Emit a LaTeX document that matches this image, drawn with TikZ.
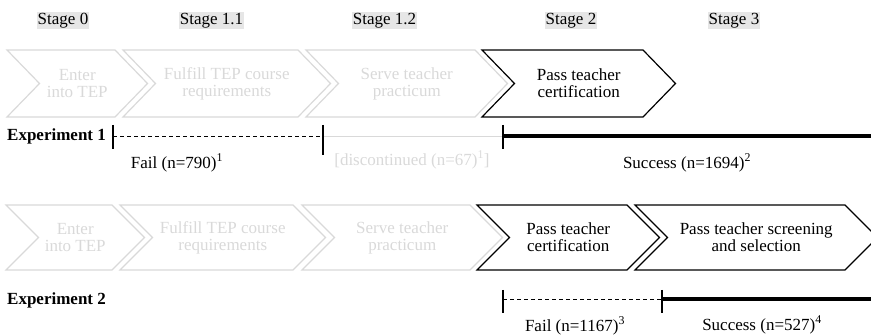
\documentclass[tikz,border=0pt]{standalone}
\usepackage{fontspec}
\setmainfont{Liberation Serif}
\definecolor{faded}{HTML}{D9D9D9}
\definecolor{stagebg}{HTML}{E6E6E6}
\newcommand\mychev[5]{%
  \draw[#5] (#1,#3) -- (#2,#3) -- ({#2+32.5},{(#3+#4)/2}) -- (#2,#4) -- (#1,#4) -- ({#1+32.5},{(#3+#4)/2}) -- cycle;}
\tikzset{
  every node/.style={font=\fontsize{17}{17}\selectfont},
  stagelbl/.style={fill=stagebg, inner xsep=1pt, inner ysep=1.5pt},
  chevfaded/.style={draw=faded, line width=1.2pt, line join=miter},
  chevdark/.style={draw=black, line width=1.2pt, line join=miter},
  chtextfaded/.style={align=center, text=faded},
  chtextdark/.style={align=center, text=black},
  explbl/.style={font=\fontsize{17}{17}\selectfont\bfseries, anchor=base west, inner sep=0pt},
  tickline/.style={line width=1.3pt},
  failline/.style={line width=0.9pt, dash pattern=on 4pt off 3pt},
  discline/.style={line width=1pt, draw=faded},
  succline/.style={line width=4pt},
  outcome/.style={inner sep=0pt},
}
\begin{document}
\begin{tikzpicture}[x=1pt,y=-1pt]
\useasboundingbox (0,0) rectangle (871,336);

% stage labels
\node[stagelbl] (s0) at (63,20.5) {Stage 0};
\node[stagelbl] (s11) at (211.5,20.5) {Stage 1.1};
\node[stagelbl] (s12) at (384.5,20.5) {Stage 1.2};
\node[stagelbl] (s2) at (571,20.5) {Stage 2};
\node[stagelbl] (s3) at (734,20.5) {Stage 3};

% row 1 chevrons
\mychev{7}{115}{50}{117}{chevfaded}
\mychev{123}{298}{50}{117}{chevfaded}
\mychev{306}{475}{50}{117}{chevfaded}
\mychev{482}{643}{50}{117}{chevdark}
\node[chtextfaded] (a1) at ({(7+32.5+115)/2},83.5) {Enter\\into TEP};
\node[chtextfaded] (a2) at ({(123+32.5+298)/2},83.5) {Fulfill TEP course\\requirements};
\node[chtextfaded] (a3) at ({(306+32.5+475)/2},83.5) {Serve teacher\\practicum};
\node[chtextdark] (a4) at ({(482+32.5+643)/2},83.5) {Pass teacher\\certification};

% experiment 1
\node[explbl] (e1) at (7,141) {Experiment 1};
\coordinate (p1) at (113,136.5);
\coordinate (p2) at (323,136.5);
\coordinate (p3) at (503,136.5);
\coordinate (p4) at (871,136.5);
\draw[failline] (p1) -- (p2);
\draw[discline] (p2) -- (p3);
\draw[succline] (p3) -- (p4);
\draw[tickline] ([yshift=11.5pt]p1) -- ([yshift=-12.5pt]p1);
\draw[tickline] ([yshift=11.5pt]p2) -- ([yshift=-18.5pt]p2);
\draw[tickline] ([yshift=11.5pt]p3) -- ([yshift=-12.5pt]p3);
\node[outcome] (f1) at (177,163) {Fail (n=790)\textsuperscript{1}};
\node[outcome, text=faded] (d1) at (412,160) {[discontinued (n=67)\textsuperscript{1}]};
\node[outcome] (u1) at (687,163) {Success (n=1694)\textsuperscript{2}};

% row 2 chevrons
\mychev{6}{112}{205}{270}{chevfaded}
\mychev{120}{293}{205}{270}{chevfaded}
\mychev{302}{470}{205}{270}{chevfaded}
\mychev{477}{627}{205}{270}{chevdark}
\mychev{635}{845}{205}{270}{chevdark}
\node[chtextfaded] (b1) at ({(6+32.5+112)/2},237.5) {Enter\\into TEP};
\node[chtextfaded] (b2) at ({(120+32.5+293)/2},237.5) {Fulfill TEP course\\requirements};
\node[chtextfaded] (b3) at ({(302+32.5+470)/2},237.5) {Serve teacher\\practicum};
\node[chtextdark] (b4) at ({(477+32.5+627)/2},237.5) {Pass teacher\\certification};
\node[chtextdark] (b5) at ({(635+32.5+845)/2},237.5) {Pass teacher screening\\and selection};

% experiment 2
\node[explbl] (e2) at (7,305) {Experiment 2};
\coordinate (q1) at (503,299);
\coordinate (q2) at (662,299);
\coordinate (q3) at (871,299);
\draw[failline] (q1) -- (q2);
\draw[succline] (q2) -- (q3);
\draw[tickline] ([yshift=9pt]q1) -- ([yshift=-14pt]q1);
\draw[tickline] ([yshift=9pt]q2) -- ([yshift=-14pt]q2);
\node[outcome] (f2) at (575,326) {Fail (n=1167)\textsuperscript{3}};
\node[outcome] (u2) at (762,325) {Success (n=527)\textsuperscript{4}};
\end{tikzpicture}
\end{document}
